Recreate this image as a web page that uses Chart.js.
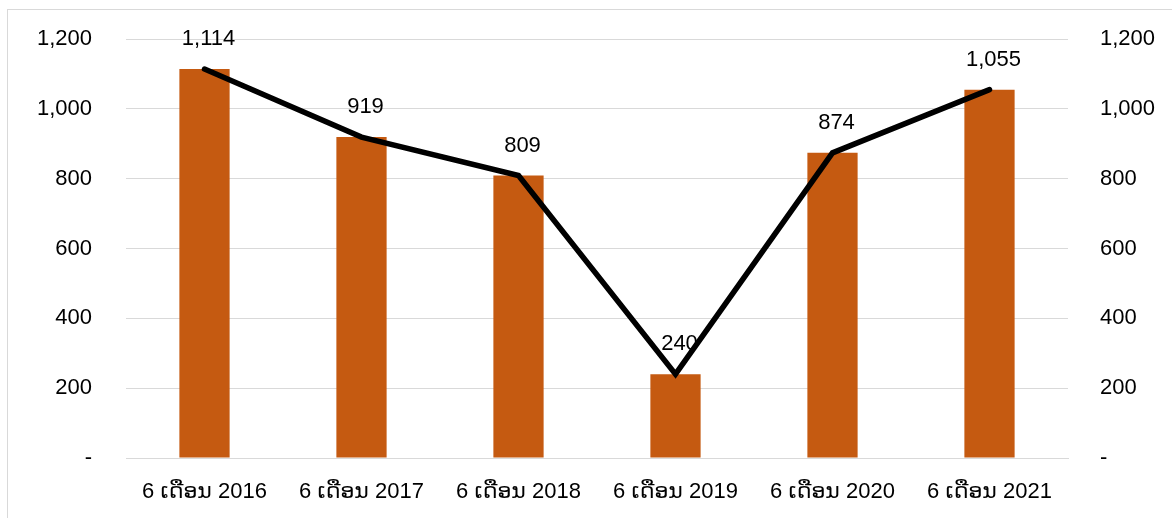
<!DOCTYPE html>
<html>
<head>
<title>6 ເດືອນ</title>
<script src="https://cdn.jsdelivr.net/npm/chart.js"></script>
<style>
  body {
  margin: 0;
  padding: 0;
  background-color: #fff;
}
#frame {
  position: absolute;
  left: 7px;
  top: 9px;
  width: 1200px;
  height: 560px;
  border-left: 1px solid #d9d9d9;
  border-top: 1px solid #d9d9d9;
}
#wrap {
  position: absolute;
  left: 0;
  top: 0;
  width: 1172px;
  height: 518px;
}
</style>
</head>
<body>
<div id="frame"></div>
<div id="wrap"><canvas id="chart"></canvas></div>

<script>
const categories = ['6 ເດືອນ 2016', '6 ເດືອນ 2017', '6 ເດືອນ 2018', '6 ເດືອນ 2019', '6 ເດືອນ 2020', '6 ເດືອນ 2021'];
const barValues = [1114, 919, 809, 240, 874, 1055];
const lineValues = [1114, 919, 809, 240, 874, 1055];

const fontFamily = '"Liberation Sans", Arial, "DejaVu Sans", sans-serif';

function fmt(v) {
  return v === 0 ? '-' : v.toLocaleString('en-US');
}

// value labels above the line points
const valueLabels = {
  id: 'valueLabels',
  afterDatasetsDraw(chart) {
    const ctx = chart.ctx;
    const meta = chart.getDatasetMeta(1);
    ctx.save();
    ctx.font = '22px ' + fontFamily;
    ctx.fillStyle = '#000';
    ctx.textAlign = 'center';
    ctx.textBaseline = 'middle';
    meta.data.forEach((pt, i) => {
      ctx.fillText(fmt(lineValues[i]), pt.x + 4, pt.y - 30);
    });
    ctx.restore();
  }
};

new Chart(document.getElementById('chart'), {
  type: 'bar',
  data: {
    labels: categories,
    datasets: [{
      type: 'bar',
      data: barValues,
      backgroundColor: '#C55A11',
      barPercentage: 0.32,
      categoryPercentage: 1,
      yAxisID: 'y',
      order: 2
    }, {
      type: 'line',
      data: lineValues,
      borderColor: '#000',
      borderWidth: 5.5,
      borderCapStyle: 'round',
      pointRadius: 0,
      tension: 0,
      fill: false,
      yAxisID: 'y1',
      order: 1
    }]
  },
  options: {
    responsive: true,
    maintainAspectRatio: false,
    animation: false,
    layout: { padding: { top: 39, left: 0, right: 0, bottom: 0 } },
    plugins: {
      legend: { display: false },
      tooltip: { enabled: false }
    },
    scales: {
      x: {
        grid: { display: false, drawTicks: false },
        border: { display: true, color: '#d9d9d9', width: 1 },
        ticks: { color: '#000', font: { size: 22, family: fontFamily }, padding: 21, maxRotation: 0 },
        afterFit(scale) { scale.height = 60; }
      },
      y: {
        position: 'left',
        min: 0,
        max: 1200,
        grid: { color: '#d9d9d9', lineWidth: 1, drawTicks: true, tickLength: 34, tickColor: 'rgba(0,0,0,0)' },
        border: { display: false },
        ticks: { stepSize: 200, color: '#000', font: { size: 22, family: fontFamily }, padding: 0, callback: fmt },
        afterFit(scale) { scale.width = 126; }
      },
      y1: {
        position: 'right',
        min: 0,
        max: 1200,
        grid: { display: true, drawOnChartArea: false, drawTicks: true, tickLength: 32, tickColor: 'rgba(0,0,0,0)' },
        border: { display: false },
        ticks: { stepSize: 200, color: '#000', font: { size: 22, family: fontFamily }, padding: 0, callback: fmt },
        afterFit(scale) { scale.width = 104; }
      }
    }
  },
  plugins: [valueLabels]
});
</script>
</body>
</html>
